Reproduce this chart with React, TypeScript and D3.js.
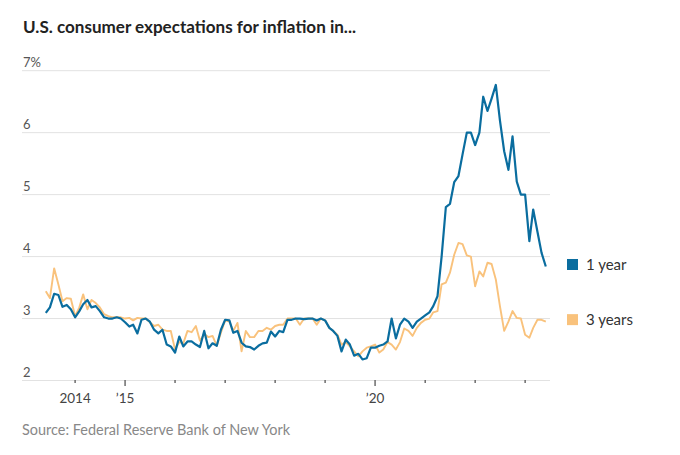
import React from "react";
import * as d3 from "d3";

// Monthly series, June 2013 .. June 2023
const startYear = 2013;
const startMonth = 5; // June (0-based)

const oneYear = [
  3.09, 3.18, 3.40, 3.38, 3.19, 3.22, 3.15, 3.02, 3.12, 3.23,
  3.30, 3.18, 3.20, 3.12, 3.02, 3.00, 3.00, 3.02, 3.00, 2.94,
  2.87, 2.90, 2.76, 2.98, 3.00, 2.95, 2.82, 2.76, 2.82, 2.58,
  2.55, 2.45, 2.71, 2.55, 2.63, 2.63, 2.58, 2.54, 2.80, 2.52,
  2.60, 2.56, 2.82, 2.98, 2.97, 2.77, 2.80, 2.61, 2.55, 2.54,
  2.50, 2.56, 2.60, 2.61, 2.79, 2.71, 2.80, 2.78, 2.98, 2.98,
  3.00, 3.00, 2.99, 3.00, 3.00, 2.97, 3.00, 2.97, 2.85, 2.80,
  2.72, 2.47, 2.66, 2.58, 2.40, 2.43, 2.34, 2.36, 2.53, 2.53,
  2.56, 2.58, 2.63, 3.00, 2.68, 2.90, 3.00, 2.95, 2.85, 2.95,
  3.00, 3.05, 3.10, 3.20, 3.36, 4.00, 4.80, 4.85, 5.20, 5.30,
  5.65, 6.00, 6.00, 5.80, 6.00, 6.58, 6.35, 6.55, 6.77, 6.20,
  5.70, 5.40, 5.94, 5.21, 5.00, 5.00, 4.25, 4.76, 4.40, 4.06, 3.84,
];

const threeYears = [
  3.44, 3.33, 3.81, 3.55, 3.28, 3.33, 3.32, 3.04, 3.18, 3.39,
  3.15, 3.30, 3.25, 3.18, 3.07, 3.04, 3.02, 3.02, 3.02, 3.00,
  3.01, 2.97, 3.01, 3.00, 3.00, 2.94, 2.88, 2.90, 2.82, 2.80,
  2.80, 2.50, 2.62, 2.60, 2.80, 2.78, 2.88, 2.64, 2.75, 2.70,
  2.72, 2.56, 2.77, 2.97, 2.95, 2.80, 2.93, 2.47, 2.80, 2.70,
  2.70, 2.80, 2.80, 2.85, 2.82, 2.88, 2.90, 2.90, 3.00, 3.00,
  3.00, 2.90, 3.00, 3.00, 3.00, 2.90, 3.00, 2.97, 2.85, 2.80,
  2.74, 2.58, 2.62, 2.55, 2.47, 2.39, 2.47, 2.53, 2.55, 2.58,
  2.45, 2.50, 2.62, 2.58, 2.50, 2.62, 2.84, 2.80, 2.72, 2.85,
  2.93, 2.98, 3.00, 3.10, 3.12, 3.55, 3.58, 3.74, 4.03, 4.22,
  4.20, 4.02, 4.00, 3.52, 3.76, 3.68, 3.90, 3.88, 3.63, 3.20,
  2.80, 2.95, 3.12, 3.01, 3.00, 2.74, 2.69, 2.85, 2.98, 2.98, 2.95,
];

const yTicks = [2, 3, 4, 5, 6, 7];
const yTickLabels = ["2", "3", "4", "5", "6", "7%"];
const xTickYears = [2014, 2015, 2016, 2017, 2018, 2019, 2020, 2021, 2022, 2023];
const xTickLabels = ["2014", "\u201915", "", "", "", "", "\u201920", "", "", ""];
const xMajorYears = [2015, 2020];

const seriesNames = ["1 year", "3 years"];
const seriesColors = ["#0a6d9f", "#f9c27c"];

const title = "U.S. consumer expectations for inflation in...";
const source = "Source: Federal Reserve Bank of New York";

const W = 680;
const H = 455;
const FONT = "Lato, 'Open Sans', sans-serif";

export default function App() {
  const dateOf = (i: number) => new Date(startYear, startMonth + i, 1);
  const x = d3
    .scaleTime()
    .domain([dateOf(0), dateOf(oneYear.length - 1)])
    .range([45.8, 545.8]);
  const y = d3.scaleLinear().domain([2, 7]).range([380.5, 70.7]);

  const line = d3
    .line<number>()
    .x((_, i) => x(dateOf(i)))
    .y((d) => y(d))
    .curve(d3.curveLinear);

  const gridX0 = 22;
  const gridX1 = 550;

  const series = [threeYears, oneYear];
  const seriesIdx = [1, 0];
  const lastVals = [oneYear[oneYear.length - 1], threeYears[threeYears.length - 1]];

  return (
    <svg
      width={W}
      height={H}
      style={{ position: "absolute", left: 0, top: 0, background: "#fff" }}
      fontFamily={FONT}
    >
      <rect x={0} y={0} width={W} height={H} fill="#fff" />
      <text x={23} y={33} fontSize={17} fontWeight={700} fill="#222" textLength={333} lengthAdjust="spacingAndGlyphs">
        {title}
      </text>

      {yTicks.map((t, i) => (
        <g key={t}>
          <line x1={gridX0} x2={gridX1} y1={y(t)} y2={y(t)} stroke="#e2e2e2" strokeWidth={1} />
          <text x={23} y={y(t) - 4} fontSize={13} fill="#555">
            {yTickLabels[i]}
          </text>
        </g>
      ))}

      {xTickYears.map((yr, i) => {
        const xx = x(new Date(yr, 0, 1));
        const major = xMajorYears.includes(yr);
        return (
          <g key={yr}>
            <line x1={xx} x2={xx} y1={380} y2={major ? 386 : 383} stroke="#555" strokeWidth={1.3} />
            {xTickLabels[i] && (
              <text x={xx} y={403} fontSize={13.5} fill="#444" textAnchor="middle">
                {xTickLabels[i]}
              </text>
            )}
          </g>
        );
      })}

      {series.map((s, k) => (
        <path
          key={k}
          d={line(s) || ""}
          fill="none"
          stroke={seriesColors[seriesIdx[k]]}
          strokeWidth={seriesIdx[k] === 0 ? 2.2 : 1.9}
          strokeLinejoin="round"
        />
      ))}

      {seriesNames.map((name, i) => {
        const cy = y(lastVals[i]) - 2;
        return (
          <g key={name}>
            <rect x={567} y={cy - 5.5} width={11} height={11} fill={seriesColors[i]} />
            <text x={586} y={cy + 5.5} fontSize={15} fill="#333">
              {name}
            </text>
          </g>
        );
      })}

      <text x={22} y={435} fontSize={14.5} fill="#888" textLength={268} lengthAdjust="spacingAndGlyphs">
        {source}
      </text>
    </svg>
  );
}
